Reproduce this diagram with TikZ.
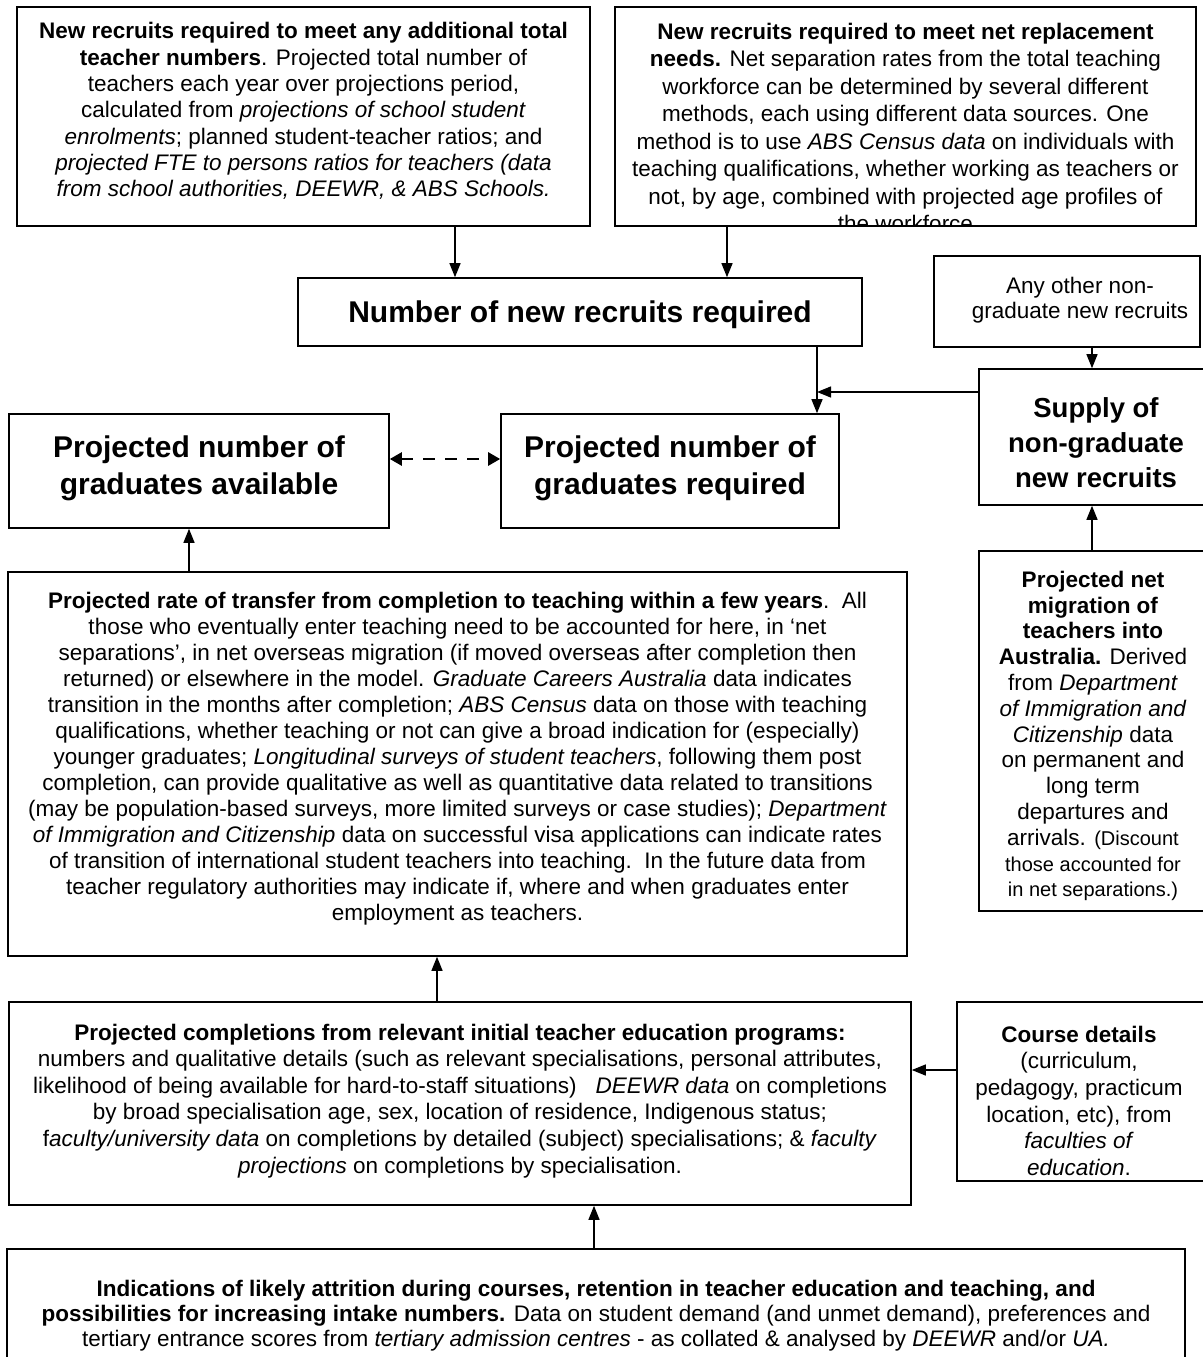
\documentclass[tikz,border=0pt]{standalone}
\usepackage{fontspec}
\setmainfont{Liberation Sans}
\usetikzlibrary{arrows.meta}
\newcommand\bodyf[1][26]{\fontsize{22.5}{#1}\selectfont}
\newcommand\bigf[1][35]{\fontsize{30}{#1}\selectfont}
\newcommand\smallf{\fontsize{20}{24}\selectfont}
\begin{document}
\begin{tikzpicture}[x=1pt,y=-1pt,
  boxst/.style={draw, line width=1.6pt, inner sep=0pt},
  txt/.style={align=center, inner sep=0pt},
  arr/.style={-{Triangle[length=14pt,width=11pt]}, line width=1.3pt},
  dasharr/.style={{Triangle[length=12pt,width=13pt]}-{Triangle[length=12pt,width=13pt]}, line width=2.5pt, dash pattern=on 12pt off 10pt}]
\useasboundingbox (0,0) rectangle (1202,1357);
% boxes
\node[boxst, minimum width=573pt, minimum height=219pt] (b1) at (303.5,116.5) {};
\node[boxst, minimum width=581pt, minimum height=219pt] (b2) at (905.5,116.5) {};
\node[boxst, minimum width=564pt, minimum height=68pt] (num) at (580,312) {};
\node[boxst, minimum width=266pt, minimum height=91pt] (other) at (1067,301.5) {};
\node[boxst, minimum width=234pt, minimum height=136pt] (supply) at (1096,437) {};
\node[boxst, minimum width=380pt, minimum height=114pt] (avail) at (199,471) {};
\node[boxst, minimum width=338pt, minimum height=114pt] (req) at (670,471) {};
\node[boxst, minimum width=899pt, minimum height=384pt] (trans) at (457.5,764) {};
\node[boxst, minimum width=228pt, minimum height=360pt] (net) at (1093,731) {};
\node[boxst, minimum width=902pt, minimum height=203pt] (comp) at (460,1103.5) {};
\node[boxst, minimum width=248pt, minimum height=179pt] (course) at (1081,1091.5) {};
\node[boxst, minimum width=1178pt, minimum height=121pt] (bottom) at (596,1309.5) {};
% texts
\node[txt, font={\bodyf[26.3]}] (t1) at (303.5,111) {\textbf{New recruits required to meet any additional total}\\
\textbf{teacher numbers}. Projected total number of\\
teachers each year over projections period,\\
calculated from \textit{projections of school student}\\
\textit{enrolments}; planned student-teacher ratios; and\\
\textit{projected FTE to persons ratios for teachers (data}\\
\textit{from school authorities, DEEWR, \& ABS Schools.}};
\begin{scope}
\clip (b2.south west) rectangle (b2.north east);
\node[txt, font={\bodyf[27.5]}] (t2) at (905.5,127.5) {\textbf{New recruits required to meet net replacement}\\
\textbf{needs.} Net separation rates from the total teaching\\
workforce can be determined by several different\\
methods, each using different data sources. One\\
method is to use \textit{ABS Census data} on individuals with\\
teaching qualifications, whether working as teachers or\\
not, by age, combined with projected age profiles of\\
the workforce};
\end{scope}
\node[txt, font={\bigf\bfseries}] (tnum) at (580,315) {Number of new recruits required};
\node[txt, font={\bodyf[25]}] (tother) at (1080,300) {Any other non-\\graduate new recruits};
\node[txt, font={\fontsize{27.5}{35}\selectfont\bfseries}] (tsupply) at (1096,443) {Supply of\\non-graduate\\new recruits};
\node[txt, font={\bigf[37]\bfseries}] (tavail) at (199,468) {Projected number of\\graduates available};
\node[txt, font={\bigf[37]\bfseries}] (treq) at (670,468) {Projected number of\\graduates required};
\node[txt, font={\bodyf[26]}] (ttrans) at (457.5,759) {\textbf{Projected rate of transfer from completion to teaching within a few years}.\ \ All\\
those who eventually enter teaching need to be accounted for here, in ‘net\\
separations’, in net overseas migration (if moved overseas after completion then\\
returned) or elsewhere in the model. \textit{Graduate Careers Australia} data indicates\\
transition in the months after completion; \textit{ABS Census} data on those with teaching\\
qualifications, whether teaching or not can give a broad indication for (especially)\\
younger graduates; \textit{Longitudinal surveys of student teachers}, following them post\\
completion, can provide qualitative as well as quantitative data related to transitions\\
(may be population-based surveys, more limited surveys or case studies); \textit{Department}\\
\textit{of Immigration and Citizenship} data on successful visa applications can indicate rates\\
of transition of international student teachers into teaching.\ \ In the future data from\\
teacher regulatory authorities may indicate if, where and when graduates enter\\
employment as teachers.};
\node[txt, font={\bodyf[25.8]}] (tnet) at (1093,736) {\textbf{Projected net}\\
\textbf{migration of}\\
\textbf{teachers into}\\
\textbf{Australia.} Derived\\
from \textit{Department}\\
\textit{of Immigration and}\\
\textit{Citizenship} data\\
on permanent and\\
long term\\
departures and\\
arrivals. {\smallf(Discount}\\
{\smallf those accounted for}\\
{\smallf in net separations.)}};
\node[txt, font={\bodyf[26.6]}] (tcomp) at (460,1100.7) {\textbf{Projected completions from relevant initial teacher education programs:}\\
numbers and qualitative details (such as relevant specialisations, personal attributes,\\
likelihood of being available for hard-to-staff situations)\ \ \ \textit{DEEWR data} on completions\\
by broad specialisation age, sex, location of residence, Indigenous status;\\
f\textit{aculty/university data} on completions by detailed (subject) specialisations; \& \textit{faculty}\\
\textit{projections} on completions by specialisation.};
\node[txt, font={\bodyf[26.6]}] (tcourse) at (1079,1100.7) {\textbf{Course details}\\
(curriculum,\\
pedagogy, practicum\\
location, etc), from\\
\textit{faculties of}\\
\textit{education}.};
\node[txt, font={\bodyf[25]}] (tbottom) at (596,1316) {\textbf{Indications of likely attrition during courses, retention in teacher education and teaching, and}\\
\textbf{possibilities for increasing intake numbers.} Data on student demand (and unmet demand), preferences and\\
tertiary entrance scores from \textit{tertiary admission centres} - as collated \& analysed by \textit{DEEWR} and/or \textit{UA.}};
% connector reference coordinates
\coordinate (xa) at (455,0);
\coordinate (xb) at (727,0);
\coordinate (xc) at (817,0);
\coordinate (xd) at (1092,0);
\coordinate (j) at (817,392);
\coordinate (yd) at (0,459);
\coordinate (xe) at (189,0);
\coordinate (xf) at (437,0);
\coordinate (yg) at (0,1070);
\coordinate (xh) at (594,0);
% connectors
\draw[arr] (b1.south -| xa) -- (num.north -| xa);
\draw[arr] (b2.south -| xb) -- (num.north -| xb);
\draw[arr] (num.south -| xc) -- (req.north -| xc);
\draw[arr] (supply.west |- j) -- (j);
\draw[arr] (other.south -| xd) -- (supply.north -| xd);
\draw[arr] (net.north -| xd) -- (supply.south -| xd);
\draw[dasharr] (avail.east |- yd) -- (req.west |- yd);
\draw[arr] (trans.north -| xe) -- (avail.south -| xe);
\draw[arr] (comp.north -| xf) -- (trans.south -| xf);
\draw[arr] (course.west |- yg) -- (comp.east |- yg);
\draw[arr] (bottom.north -| xh) -- (comp.south -| xh);
\end{tikzpicture}
\end{document}
